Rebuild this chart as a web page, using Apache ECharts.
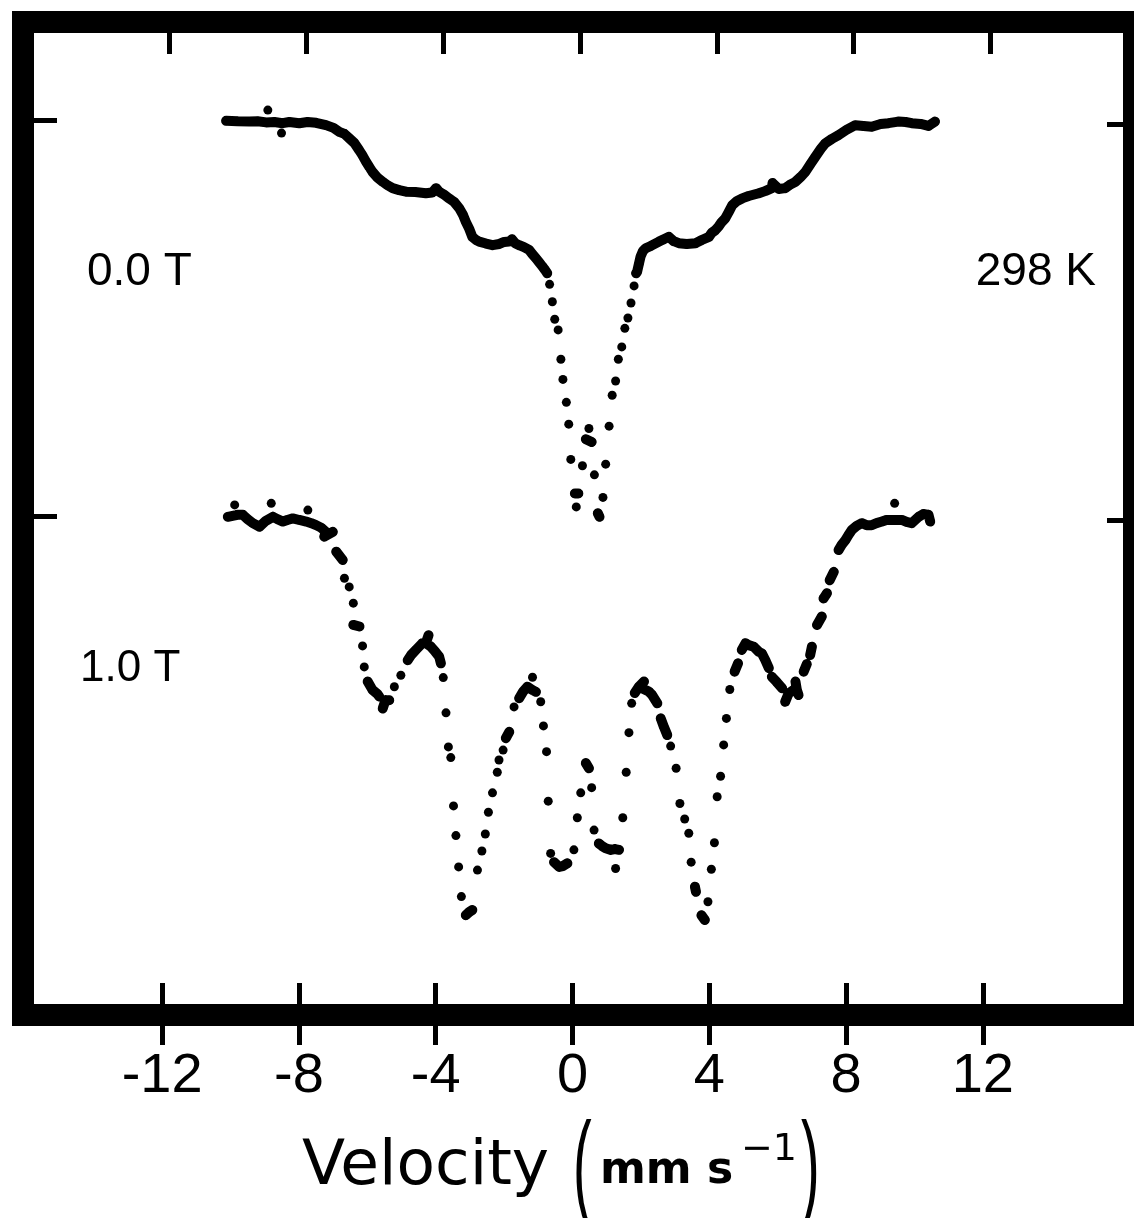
<!DOCTYPE html>
<html>
<head>
<meta charset="utf-8">
<script src="https://cdn.jsdelivr.net/npm/echarts@6/dist/echarts.min.js"></script>
<style>
html, body { margin: 0; padding: 0; background: #fff; }
#chart { width: 1134px; height: 1218px; }
</style>
</head>
<body>
<div id="chart"></div>
<script>
// tick marks
var velocityTicks = [-12, -8, -4, 0, 4, 8, 12];
var baselineTicks = [0, 1];

// 0.0 T spectrum, 298 K : [velocity mm/s, relative transmission]
var spec0T = [
    [-10.13,0.998],[-9.80,0.997],[-9.45,0.996],[-9.21,0.997],[-8.96,0.994],[-8.91,1.025],[-8.72,0.995],[-8.51,0.967],
    [-8.48,0.992],[-8.28,0.995],[-7.99,0.992],[-7.75,0.995],[-7.50,0.993],[-7.21,0.987],[-6.99,0.980],[-6.82,0.970],
    [-6.67,0.965],[-6.53,0.954],[-6.38,0.942],[-6.24,0.924],[-6.15,0.912],[-6.04,0.895],[-5.94,0.881],[-5.85,0.869],
    [-5.72,0.856],[-5.55,0.844],[-5.42,0.836],[-5.26,0.828],[-5.07,0.823],[-4.87,0.819],[-4.60,0.818],[-4.29,0.815],
    [-4.10,0.817],[-3.99,0.828],[-3.90,0.819],[-3.75,0.811],[-3.61,0.802],[-3.46,0.793],[-3.31,0.777],[-3.20,0.760],
    [-3.12,0.743],[-3.02,0.725],[-2.93,0.705],[-2.82,0.697],[-2.73,0.693],[-2.53,0.688],[-2.34,0.684],[-2.14,0.687],
    [-2.00,0.692],[-1.85,0.693],[-1.77,0.699],[-1.68,0.689],[-1.56,0.684],[-1.42,0.679],[-1.27,0.672],[-1.18,0.662],
    [-1.07,0.651],[-0.98,0.641],[-0.88,0.630],[-0.80,0.621],[-0.74,0.613],
    [-0.67,0.585],[-0.59,0.541],[-0.52,0.497],[-0.42,0.470],[-0.34,0.396],[-0.28,0.345],[-0.18,0.287],[-0.11,0.232],
    [-0.05,0.143],[0.07,0.057],[0.17,0.057],[0.11,0.023],[0.29,0.127],[0.39,0.194],[0.48,0.221],[0.56,0.187],
    [0.64,0.104],[0.74,0.007],[0.79,-0.002],[0.89,0.047],[0.97,0.131],[1.07,0.227],[1.16,0.305],[1.26,0.341],
    [1.34,0.396],[1.44,0.427],[1.53,0.474],[1.62,0.500],[1.71,0.538],[1.80,0.581],
    [1.86,0.613],[1.89,0.617],[1.94,0.636],[1.99,0.655],[2.06,0.669],[2.14,0.676],[2.29,0.682],[2.53,0.693],
    [2.67,0.699],[2.82,0.705],[2.96,0.694],[3.11,0.689],[3.34,0.687],[3.60,0.689],[3.78,0.697],[3.99,0.705],
    [4.07,0.715],[4.18,0.722],[4.28,0.732],[4.36,0.742],[4.47,0.752],[4.57,0.768],[4.67,0.785],[4.80,0.795],
    [4.96,0.802],[5.15,0.808],[5.45,0.815],[5.65,0.821],[5.83,0.828],[5.85,0.841],[6.03,0.826],[6.22,0.828],
    [6.35,0.836],[6.52,0.844],[6.67,0.856],[6.81,0.869],[6.96,0.889],[7.10,0.907],[7.26,0.927],[7.39,0.941],
    [7.58,0.952],[7.78,0.962],[8.01,0.975],[8.27,0.987],[8.51,0.985],[8.75,0.983],[9.01,0.990],[9.24,0.992],
    [9.53,0.996],[9.74,0.995],[9.92,0.992],[10.18,0.990],[10.41,0.985],[10.60,0.996]
];

// 1.0 T spectrum, same baseline convention (plotted one unit lower)
var spec1T = [
    [-10.08,0.998],[-9.88,1.028],[-9.80,1.003],[-9.64,1.003],[-9.50,0.992],[-9.35,0.982],[-9.15,0.973],[-8.98,0.987],
    [-8.81,1.032],[-8.76,0.998],[-8.63,0.992],[-8.47,0.986],[-8.34,0.990],[-8.18,0.994],[-7.99,0.990],[-7.79,0.986],
    [-7.74,1.015],[-7.64,0.982],[-7.50,0.977],[-7.34,0.970],[-7.21,0.960],[-7.26,0.948],[-7.01,0.960],
    [-6.91,0.910],[-6.72,0.889],[-6.67,0.843],[-6.53,0.821],[-6.41,0.780],[-6.41,0.725],[-6.23,0.721],[-6.14,0.672],
    [-6.09,0.619],[-5.99,0.582],[-5.85,0.561],[-5.71,0.551],[-5.65,0.544],[-5.55,0.514],[-5.47,0.535],[-5.36,0.535],
    [-5.21,0.569],[-5.02,0.598],[-4.82,0.636],[-4.72,0.649],[-4.58,0.662],[-4.39,0.679],[-4.29,0.679],[-4.21,0.699],
    [-4.14,0.670],[-4.01,0.657],[-3.90,0.645],[-3.85,0.628],[-3.78,0.592],[-3.70,0.503],[-3.63,0.417],[-3.56,0.390],
    [-3.48,0.268],[-3.41,0.193],[-3.33,0.114],[-3.25,0.039],[-3.12,-0.008],[-3.02,0.000],[-2.93,0.005],[-2.78,0.106],
    [-2.65,0.154],[-2.55,0.197],[-2.46,0.252],[-2.34,0.301],[-2.20,0.353],[-2.15,0.384],[-2.03,0.409],[-1.95,0.439],
    [-1.85,0.455],[-1.71,0.518],[-1.56,0.540],[-1.45,0.556],[-1.32,0.569],[-1.17,0.593],[-1.18,0.561],[-1.07,0.556],
    [-0.93,0.531],[-0.85,0.470],[-0.76,0.405],[-0.71,0.280],[-0.64,0.148],[-0.54,0.126],[-0.39,0.114],[-0.28,0.116],
    [-0.15,0.123],[0.04,0.157],[0.14,0.238],[0.24,0.301],[0.39,0.376],[0.48,0.363],[0.56,0.314],[0.63,0.207],
    [0.77,0.173],[0.86,0.167],[0.97,0.161],[1.12,0.157],[1.24,0.159],[1.36,0.157],[1.26,0.110],[1.47,0.238],
    [1.57,0.353],[1.65,0.453],[1.73,0.527],[1.82,0.553],[1.94,0.569],[2.09,0.582],[2.23,0.557],[2.33,0.548],
    [2.48,0.527],[2.58,0.489],[2.67,0.468],[2.77,0.447],[2.87,0.419],[3.03,0.363],[3.14,0.274],[3.28,0.235],
    [3.40,0.199],[3.47,0.126],[3.58,0.064],[3.61,0.051],[3.77,-0.008],[3.87,-0.020],[3.96,0.026],[4.06,0.108],
    [4.15,0.175],[4.23,0.291],[4.33,0.343],[4.42,0.422],[4.50,0.489],[4.60,0.562],[4.74,0.607],[4.84,0.628],
    [4.95,0.662],[5.06,0.679],[5.15,0.674],[5.30,0.670],[5.45,0.657],[5.54,0.653],[5.64,0.636],[5.74,0.616],
    [5.83,0.594],[5.97,0.581],[6.13,0.565],[6.22,0.531],[6.32,0.552],[6.47,0.561],[6.56,0.561],[6.52,0.582],
    [6.61,0.548],[6.76,0.607],[6.85,0.626],[6.95,0.649],[7.00,0.670],[7.15,0.725],[7.29,0.746],[7.34,0.792],
    [7.44,0.805],[7.52,0.838],[7.64,0.859],[7.78,0.914],[7.87,0.927],[7.98,0.939],[8.07,0.952],[8.17,0.965],
    [8.31,0.975],[8.46,0.982],[8.60,0.977],[8.75,0.977],[8.89,0.982],[9.05,0.986],[9.18,0.990],[9.34,0.990],
    [9.42,1.032],[9.47,0.990],[9.63,0.990],[9.77,0.985],[9.92,0.982],[10.12,0.998],[10.26,1.005],[10.41,1.003],
    [10.46,0.986]
];

var offset0T = 0;
var offset1T = -1;

// rough pixel size of one unit, used only to decide where dots run together into a band
var pxPerV = 34.25, pxPerT = 396;

function shifted(points, off) {
    return points.map(function (p) { return [p[0], p[1] + off]; });
}

function close(a, b) {
    var dx = Math.abs(b[0] - a[0]) * pxPerV, dy = Math.abs(b[1] - a[1]) * pxPerT;
    return dx < 14 && dy < 8.5;
}

// channels that sit close together run into a continuous band in the original trace
function bandData(points, off) {
    var out = [];
    for (var i = 1; i < points.length; i++) {
        for (var j = i - 1; j >= Math.max(0, i - 2); j--) {
            if (close(points[j], points[i])) {
                out.push([points[j][0], points[j][1] + off], [points[i][0], points[i][1] + off], '-');
                break;
            }
        }
    }
    return out;
}

var tickStyle = { color: '#000', width: 5 };
var dotStyle = { color: '#000', opacity: 1 };
var bandStyle = { color: '#000', width: 10, cap: 'round', join: 'round' };

var option = {
    animation: false,
    backgroundColor: '#fff',
    grid: {
        left: 23, top: 22, right: -2, bottom: 203,
        show: true, borderColor: '#000', borderWidth: 22, backgroundColor: 'transparent'
    },
    xAxis: [
        {
            type: 'value', position: 'bottom', min: -16.07, max: 16.42, offset: 30,
            axisLine: { show: false, onZero: false },
            axisTick: { show: true, inside: true, length: 62, lineStyle: tickStyle, customValues: velocityTicks },
            axisLabel: { customValues: velocityTicks, margin: 4, color: '#000', fontFamily: 'Liberation Sans', fontSize: 56 },
            splitLine: { show: false }
        },
        {
            type: 'value', position: 'top', min: -16.29, max: 16.20,
            axisLine: { show: false, onZero: false },
            axisTick: { show: true, inside: true, length: 32, lineStyle: tickStyle, customValues: velocityTicks },
            axisLabel: { show: false },
            splitLine: { show: false }
        }
    ],
    yAxis: [
        {
            type: 'value', position: 'left', min: -1.26, max: 1.2475,
            axisLine: { show: false, onZero: false },
            axisTick: { show: true, inside: true, length: 34, lineStyle: tickStyle, customValues: baselineTicks },
            axisLabel: { show: false },
            splitLine: { show: false }
        },
        {
            type: 'value', position: 'right', min: -1.25, max: 1.2575,
            axisLine: { show: false, onZero: false },
            axisTick: { show: true, inside: true, length: 27, lineStyle: tickStyle, customValues: baselineTicks },
            axisLabel: { show: false },
            splitLine: { show: false }
        }
    ],
    series: [
        { name: '0.0 T band', type: 'line', data: bandData(spec0T, offset0T), symbol: 'none', lineStyle: bandStyle, connectNulls: false, silent: true },
        { name: '0.0 T', type: 'scatter', data: shifted(spec0T, offset0T), symbolSize: 9, itemStyle: dotStyle, silent: true },
        { name: '1.0 T band', type: 'line', data: bandData(spec1T, offset1T), symbol: 'none', lineStyle: bandStyle, connectNulls: false, silent: true },
        { name: '1.0 T', type: 'scatter', data: shifted(spec1T, offset1T), symbolSize: 9, itemStyle: dotStyle, silent: true }
    ],
    graphic: [
        { type: 'text', x: 87, y: 272, style: { text: '0.0 T', font: '46px "Liberation Sans"', fill: '#000', verticalAlign: 'middle' } },
        { type: 'text', x: 1096, y: 272, style: { text: '298 K', font: '46px "Liberation Sans"', fill: '#000', align: 'right', verticalAlign: 'middle' } },
        { type: 'text', x: 80, y: 669, style: { text: '1.0 T', font: '44px "Liberation Sans"', fill: '#000', verticalAlign: 'middle' } },
        { type: 'text', x: 302, y: 1168, style: { text: 'Velocity', font: '63px "DejaVu Sans"', fill: '#000', verticalAlign: 'middle' } },
        { type: 'text', x: 573, y: 1172, scaleY: 2.1, style: { text: '(', font: '56px "Liberation Sans"', fill: '#000', verticalAlign: 'middle' } },
        { type: 'text', x: 600, y: 1172, style: { text: 'mm s', font: '600 44px "DejaVu Sans"', fill: '#000', verticalAlign: 'middle' } },
        { type: 'text', x: 741, y: 1150, style: { text: '\u22121', font: '38px "DejaVu Sans"', fill: '#000', verticalAlign: 'middle' } },
        { type: 'text', x: 801, y: 1172, scaleY: 2.1, style: { text: ')', font: '56px "Liberation Sans"', fill: '#000', verticalAlign: 'middle' } }
    ]
};

var myChart = echarts.init(document.getElementById('chart'));
myChart.setOption(option);
</script>
</body>
</html>
